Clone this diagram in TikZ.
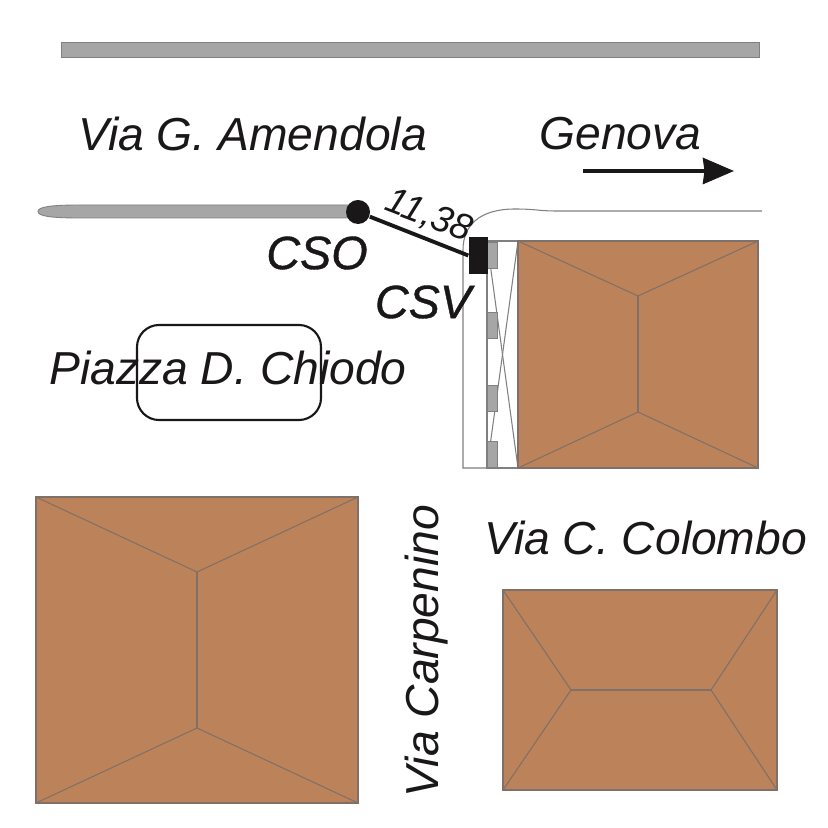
\documentclass[tikz,border=0pt]{standalone}
\usepackage{fontspec}
\setmainfont{Liberation Sans}
\newfontfamily\sitefont[ItalicFeatures={FakeBold=0.8}]{Liberation Sans}
\usepackage{xcolor}
\usetikzlibrary{arrows.meta}
\definecolor{roofbrown}{HTML}{BC825A}
\definecolor{roofline}{HTML}{7F7068}
\definecolor{kerbgray}{HTML}{A6A6A6}
\definecolor{inkblack}{HTML}{1A1718}
\tikzset{
  roof/.style={draw=roofline, line width=0.3pt},
  kerb/.style={draw=gray, fill=kerbgray, line width=0.25pt},
  stopbox/.style={draw=gray, fill=kerbgray, line width=0.25pt, inner sep=0, minimum width=0.1cm, minimum height=0.26cm},
  roadline/.style={draw=gray, line width=0.3pt},
  streetname/.style={font=\itshape\fontsize{13.15pt}{16pt}\selectfont, text=inkblack, inner sep=0},
  sitename/.style={font=\sitefont\itshape\fontsize{13.3pt}{16pt}\selectfont, text=inkblack, inner sep=0},
}
\begin{document}
\begin{tikzpicture}[x=0.01cm, y=-0.01cm]
            \useasboundingbox (0,0) rectangle (828,828);
            \fill[white] (0,0) rectangle (828,828);
            % road edges
            \draw[kerb] (61,42) rectangle (759,57);
            \draw[kerb] (358,205) -- (80,205) .. controls (50,205) and (38,207) .. (38,211.5) .. controls (38,216) and (50,218) .. (80,218) -- (358,218) -- cycle;
            \draw[roadline] (487,468) -- (463,468) -- (463,250) .. controls (463,225) and (480,209) .. (515,209) .. controls (535,209) and (540,211) .. (555,211) -- (762,211);
            \draw[roadline] (487,241) rectangle (518,468);
            \draw[roadline] (487,241) -- (518,468);
            \draw[roadline] (518,241) -- (487,468);
            % stops
            \node[stopbox, anchor=north west] (stop1) at (487,242) {};
            \node[stopbox, anchor=north west] (stop2) at (487,312) {};
            \node[stopbox, anchor=north west] (stop3) at (487,385) {};
            \node[stopbox, anchor=north west] (stop4) at (487,441) {};
            % buildings
            \fill[roofbrown] (518,241) rectangle (758,468);
            \draw[roof] (518,241) rectangle (758,468);
            \draw[roof] (518,241) -- (638,296) -- (758,241);
            \draw[roof] (518,468) -- (638,412) -- (758,468);
            \draw[roof] (638,296) -- (638,412);
            \fill[roofbrown] (36,497) rectangle (358,803);
            \draw[roof] (36,497) rectangle (358,803);
            \draw[roof] (36,497) -- (197,572) -- (358,497);
            \draw[roof] (36,803) -- (197,728) -- (358,803);
            \draw[roof] (197,572) -- (197,728);
            \fill[roofbrown] (503,590) rectangle (777,790);
            \draw[roof] (503,590) rectangle (777,790);
            \draw[roof] (503,590) -- (571,690) -- (503,790);
            \draw[roof] (777,590) -- (711,690) -- (777,790);
            \draw[roof] (571,690) -- (711,690);
            % square
            \draw[inkblack, line width=0.6pt, rounded corners=0.22cm] (137,325) rectangle (321,420);
            % monitoring points
            \node[fill=inkblack, circle, inner sep=0, minimum size=0.24cm] (cso) at (358,212) {};
            \node[fill=inkblack, inner sep=0, minimum width=0.19cm, minimum height=0.37cm] (csv) at (478.5,255.5) {};
            \draw[inkblack, line width=1.1pt] (cso) -- (csv.west);
            % labels
            \node[streetname] (amendola) at (252.5,134) {Via G. Amendola};
            \node[streetname] (genova) at (620.5,134) {Genova};
            \node[streetname] (chiodo) at (228,368) {Piazza D. Chiodo};
            \node[streetname] (colombo) at (645.5,538) {Via C. Colombo};
            \node[streetname, rotate=90] (carpenino) at (427,651) {Via Carpenino};
            \node[streetname, rotate=-21, font=\itshape\fontsize{10.5pt}{12pt}\selectfont] (dist) at (429,216) {11,38};
            \node[sitename] (csolabel) at (317,253) {CSO};
            \node[sitename] (csvlabel) at (423,302) {CSV};
            % direction
            \coordinate (gen0) at (583,171);
            \coordinate (gen1) at (734,171);
            \draw[inkblack, line width=1.1pt, -{Stealth[length=0.31cm, width=0.26cm, inset=0.015cm]}] (gen0) -- (gen1);
\end{tikzpicture}
\end{document}
